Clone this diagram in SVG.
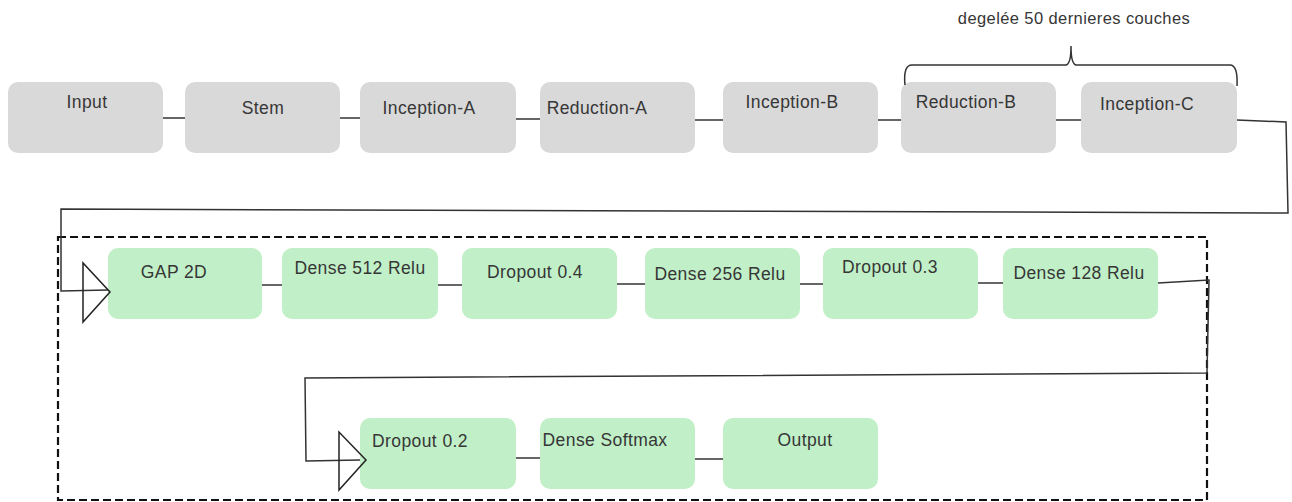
<svg xmlns="http://www.w3.org/2000/svg" width="1292" height="502" viewBox="0 0 1292 502">
  <style>
    .base rect { fill: #d9d9d9; }
    .head rect { fill: #c1f0c8; }
    text { font-family: "Liberation Sans", Arial, sans-serif; font-size: 17.5px; letter-spacing: 0.4px; fill: #363636; text-anchor: middle; }
    .note { font-size: 16.5px; }
    .wire { fill: none; stroke: #333; stroke-width: 1.5; }
    .tri { fill: none; stroke: #222; stroke-width: 1.5; stroke-linejoin: miter; }
    .frame { fill: none; stroke: #111; stroke-width: 2.2; stroke-dasharray: 8 4; }
  </style>
  <rect width="1292" height="502" fill="#ffffff"/>

  <!-- frozen backbone -->
  <g class="base">
    <g id="input"><rect x="8" y="82" width="155" height="71" rx="10"/><text x="87" y="108">Input</text></g>
    <g id="stem"><rect x="185" y="82" width="155" height="71" rx="10"/><text x="263" y="114">Stem</text></g>
    <g id="inception-a"><rect x="360" y="82" width="156" height="71" rx="10"/><text x="429" y="114">Inception-A</text></g>
    <g id="reduction-a"><rect x="540" y="82" width="155" height="71" rx="10"/><text x="597" y="114">Reduction-A</text></g>
    <g id="inception-b"><rect x="723" y="82" width="155" height="71" rx="10"/><text x="792" y="108">Inception-B</text></g>
    <g id="reduction-b"><rect x="901" y="82" width="155" height="71" rx="10"/><text x="966" y="108">Reduction-B</text></g>
    <g id="inception-c"><rect x="1081" y="82" width="156" height="71" rx="10"/><text x="1147" y="110">Inception-C</text></g>
  </g>

  <!-- brace over the unfrozen layers -->
  <g id="unfrozen-note">
    <path class="wire" d="M905,85 Q903,65 912,65 L1066,65 Q1071,64 1071,46 Q1071,64 1076,65 L1230,65 Q1238,65 1237,86"/>
    <text class="note" x="1074" y="24">degelée 50 dernieres couches</text>
  </g>

  <!-- classification head frame -->
  <rect id="head-frame" class="frame" x="58" y="237" width="1149" height="263"/>

  <g class="head">
    <g id="gap2d"><rect x="108" y="248" width="154" height="71" rx="10"/><text x="174" y="278">GAP 2D</text></g>
    <g id="dense512"><rect x="282" y="248" width="156" height="71" rx="10"/><text x="360" y="274">Dense 512 Relu</text></g>
    <g id="dropout04"><rect x="462" y="248" width="155" height="71" rx="10"/><text x="535" y="278">Dropout 0.4</text></g>
    <g id="dense256"><rect x="645" y="248" width="155" height="71" rx="10"/><text x="720" y="280">Dense 256 Relu</text></g>
    <g id="dropout03"><rect x="823" y="248" width="155" height="71" rx="10"/><text x="890" y="273">Dropout 0.3</text></g>
    <g id="dense128"><rect x="1003" y="248" width="155" height="71" rx="10"/><text x="1079" y="279">Dense 128 Relu</text></g>
    <g id="dropout02"><rect x="360" y="418" width="156" height="71" rx="10"/><text x="420" y="447">Dropout 0.2</text></g>
    <g id="dense-softmax"><rect x="540" y="418" width="155" height="71" rx="10"/><text x="605" y="446">Dense Softmax</text></g>
    <g id="output"><rect x="723" y="418" width="155" height="71" rx="10"/><text x="805" y="446">Output</text></g>
  </g>

  <!-- connectors -->
  <g id="connectors">
    <path class="wire" d="M163,118 L185,118"/>
    <path class="wire" d="M340,118 L360,118"/>
    <path class="wire" d="M516,119 L540,119"/>
    <path class="wire" d="M695,120 L723,120"/>
    <path class="wire" d="M878,120 L901,120"/>
    <path class="wire" d="M1056,120 L1081,120"/>
    <path class="wire" d="M1237,120 L1286,122 L1288,213 L61,209 L61,291 L108,290"/>
    <polygon class="tri" points="83,263 83,322 110,292"/>
    <path class="wire" d="M262,285 L282,285"/>
    <path class="wire" d="M438,285 L462,285"/>
    <path class="wire" d="M617,284 L645,284"/>
    <path class="wire" d="M800,284 L823,284"/>
    <path class="wire" d="M978,283 L1003,283"/>
    <path class="wire" d="M1158,283 L1209,280 L1207,373 L305,378 L306,461 L360,460"/>
    <polygon class="tri" points="339,432 339,490 366,460"/>
    <path class="wire" d="M516,458 L540,458"/>
    <path class="wire" d="M695,459 L723,459"/>
  </g>
</svg>
